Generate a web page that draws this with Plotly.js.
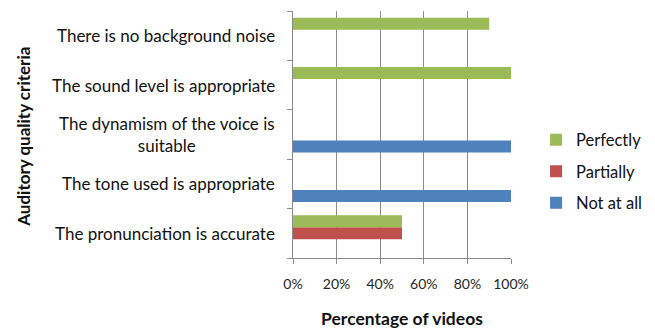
<!DOCTYPE html>
<html>
<head>
<meta charset="utf-8">
<script src="https://cdn.plot.ly/plotly-3.0.1.min.js"></script>
<style>html,body{margin:0;padding:0;background:#fff;}#chart{width:655px;height:329px;}</style>
</head>
<body>
<div id="chart"></div>
<script>
var categories = [
  "The pronunciation is accurate",
  "The tone used is appropriate",
  "The dynamism of the voice is suitable",
  "The sound level is appropriate",
  "There is no background noise"
];
var categoryLabels = [
  "The pronunciation is accurate",
  "The tone used is appropriate",
  "The dynamism of the voice is<br>suitable",
  "The sound level is appropriate",
  "There is no background noise"
];
var notAtAll = [0, 100, 100, 0, 0];
var partially = [50, 0, 0, 0, 0];
var perfectly = [50, 0, 0, 100, 90];
var xTickVals = [0, 20, 40, 60, 80, 100];
var xTickText = ["0%", "20%", "40%", "60%", "80%", "100%"];

var FONT = "Lato, 'Open Sans', sans-serif";
var TXT = "#111";

var traces = [
  {type: "bar", orientation: "h", name: "Not at all", y: categories, x: notAtAll,
   marker: {color: "#4F81BD"}, legendgroup: "a", legendrank: 3},
  {type: "bar", orientation: "h", name: "Partially", y: categories, x: partially,
   marker: {color: "#C0504D"}, legendgroup: "b", legendrank: 2},
  {type: "bar", orientation: "h", name: "Perfectly", y: categories, x: perfectly,
   marker: {color: "#9BBB59"}, legendgroup: "c", legendrank: 1}
];

var annotations = categories.map(function (c, i) {
  return {xref: "paper", yref: "y", x: -0.075, y: c, text: categoryLabels[i],
    xanchor: "right", yanchor: "middle", align: "center", showarrow: false,
    font: {family: FONT, size: 17, color: TXT}};
});
annotations.push({xref: "paper", yref: "paper", x: -1.235, y: 0.49, text: "<b>Auditory quality criteria</b>",
  textangle: -90, xanchor: "center", yanchor: "middle", showarrow: false,
  font: {family: FONT, size: 17, color: TXT}});

var layout = {
  width: 655, height: 329,
  margin: {l: 293, r: 144, t: 11, b: 71, pad: 0, autoexpand: false},
  paper_bgcolor: "#fff", plot_bgcolor: "#fff",
  barmode: "group", bargap: 0.27, bargroupgap: 0,
  font: {family: FONT, color: TXT},
  xaxis: {
    range: [0, 100], tickmode: "array", tickvals: xTickVals, ticktext: xTickText,
    showgrid: true, gridcolor: "#8c8c8c", gridwidth: 1,
    showline: true, linecolor: "#8c8c8c", linewidth: 1,
    ticks: "outside", ticklen: 5, tickcolor: "#8c8c8c",
    ticklabelstandoff: 8,
    tickfont: {family: FONT, size: 14, color: "#262626"},
    zeroline: false, fixedrange: true,
    title: {text: "<b>Percentage of videos</b>", standoff: 22,
      font: {family: FONT, size: 17.5, color: TXT}}
  },
  yaxis: {
    type: "category", categoryorder: "array", categoryarray: categories,
    showticklabels: false, showgrid: false, zeroline: false,
    showline: true, linecolor: "#8c8c8c", linewidth: 1,
    ticks: "outside", ticklen: 5, tickcolor: "#8c8c8c", tickson: "boundaries",
    fixedrange: true
  },
  legend: {
    x: 1.115, xanchor: "left", xref: "paper", y: 0.35, yanchor: "middle",
    traceorder: "grouped", tracegroupgap: 7,
    font: {family: FONT, size: 16.5, color: TXT},
    itemwidth: 30, bgcolor: "rgba(0,0,0,0)"
  },
  showlegend: true,
  annotations: annotations
};

Plotly.newPlot("chart", traces, layout, {displayModeBar: false, staticPlot: true});
</script>
</body>
</html>
